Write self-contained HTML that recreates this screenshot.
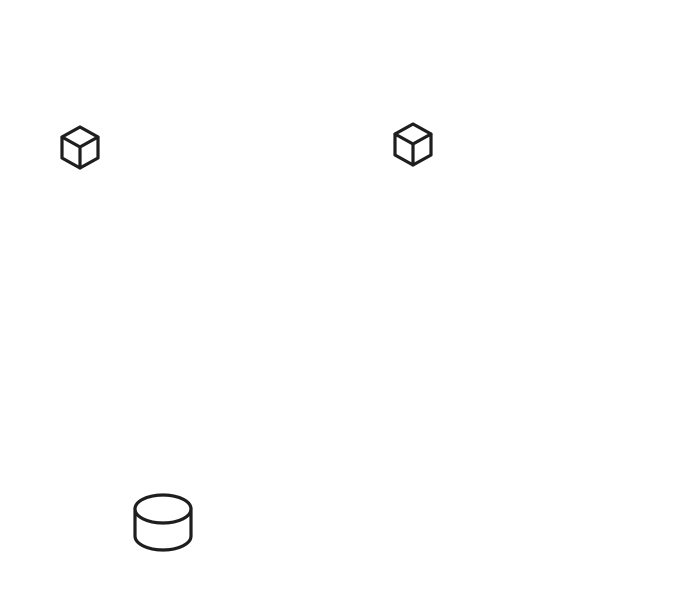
<!DOCTYPE html>
<html><head><style>html,body{margin:0;padding:0;background:#fff;width:678px;height:600px;overflow:hidden}</style></head>
<body>
<svg width="678" height="600" viewBox="0 0 678 600" xmlns="http://www.w3.org/2000/svg">
<g fill="none" stroke="#1e1e1e" stroke-width="3.2" stroke-linejoin="round" stroke-linecap="round">
  <g transform="translate(80,147)">
    <path d="M0,-20 L18,-10 L18,11 L0,21 L-18,11 L-18,-10 Z"/>
    <path d="M-18,-10 L0,0 L18,-10 M0,0 L0,21"/>
  </g>
  <g transform="translate(413,144)">
    <path d="M0,-20 L18,-10 L18,11 L0,21 L-18,11 L-18,-10 Z"/>
    <path d="M-18,-10 L0,0 L18,-10 M0,0 L0,21"/>
  </g>
  <g>
    <ellipse cx="163" cy="509" rx="28" ry="14"/>
    <path d="M135,509 L135,536 A28,14 0 0 0 191,536 L191,509"/>
  </g>
</g>
</svg>
</body></html>
